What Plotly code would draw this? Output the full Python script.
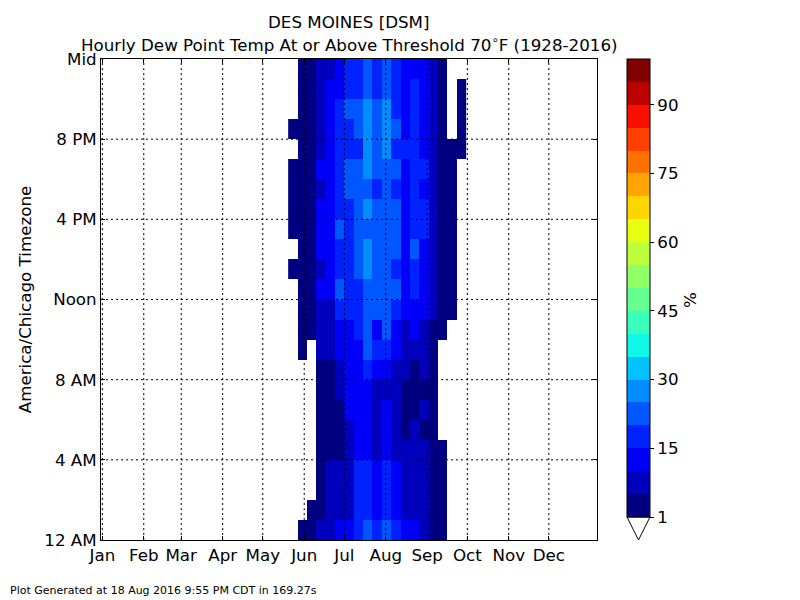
import numpy as np
import plotly.graph_objects as go

# week of year columns that have data (the rest of the year is below 1%)
weeks = list(range(20, 39))
hours = list(range(24))

# percent of hours at or above threshold, one row per hour (0 = 12 AM), columns = weeks 20..38
pct = [
    [None, 3, 3, 7, 7, 12, 12, 17, 22, 17, 22, 17, 12, 12, 7, 3, 3, None, None],
    [None, None, 3, 3, 7, 7, 7, 17, 17, 12, 17, 12, 7, 7, 7, 3, 3, None, None],
    [None, None, None, 3, 7, 7, 7, 17, 17, 12, 17, 12, 7, 7, 7, 3, 3, None, None],
    [None, None, None, 3, 7, 7, 7, 17, 17, 12, 17, 12, 7, 7, 7, 3, 3, None, None],
    [None, None, None, 3, 3, 3, 7, 12, 12, 7, 12, 7, 7, 7, 7, 3, 3, None, None],
    [None, None, None, 3, 3, 3, 7, 12, 12, 7, 12, 7, 3, 7, 3, 3, None, None, None],
    [None, None, None, 3, 3, 3, 12, 12, 12, 7, 12, 7, 3, 3, 7, 3, None, None, None],
    [None, None, None, 3, 3, 7, 12, 12, 12, 7, 7, 7, 3, 3, 3, 3, None, None, None],
    [None, None, None, 3, 3, 7, 12, 12, 17, 12, 12, 7, 7, 3, 7, 3, None, None, None],
    [None, 3, None, 7, 7, 12, 12, 12, 22, 17, 17, 12, 7, 7, 7, 3, None, None, None],
    [None, 3, 3, 7, 7, 12, 12, 17, 22, 12, 22, 12, 7, 12, 7, 3, 3, None, None],
    [None, 3, 3, 7, 7, 17, 17, 17, 22, 22, 22, 17, 12, 12, 12, 7, 3, 3, None],
    [None, 3, 3, 12, 12, 22, 17, 17, 22, 22, 22, 22, 12, 17, 12, 7, 3, 3, None],
    [3, 3, 3, 7, 12, 17, 17, 22, 27, 22, 22, 17, 12, 17, 12, 7, 3, 3, None],
    [None, 3, 3, 12, 12, 17, 17, 22, 27, 22, 22, 22, 12, 22, 12, 7, 3, 3, None],
    [3, 3, 3, 12, 12, 22, 17, 22, 22, 22, 22, 22, 12, 17, 17, 7, 3, 3, None],
    [3, 3, 3, 12, 12, 17, 17, 22, 27, 22, 22, 22, 12, 17, 17, 7, 3, 3, None],
    [3, 3, 3, 7, 12, 17, 22, 22, 22, 17, 22, 17, 12, 17, 12, 7, 3, 3, None],
    [3, 3, 3, 12, 12, 17, 22, 22, 27, 22, 22, 22, 12, 17, 17, 7, 3, 3, None],
    [None, 3, 3, 7, 12, 17, 17, 17, 27, 22, 27, 17, 17, 17, 12, 7, 3, 3, 3],
    [3, 3, 3, 7, 12, 17, 17, 22, 27, 22, 27, 22, 12, 17, 12, 7, 3, None, 3],
    [None, 3, 3, 7, 12, 17, 22, 22, 27, 22, 27, 17, 12, 17, 12, 7, 3, None, 3],
    [None, 3, 3, 7, 12, 12, 17, 17, 22, 17, 22, 17, 12, 17, 12, 7, 3, None, 3],
    [None, 3, 3, 7, 7, 12, 17, 17, 22, 17, 22, 17, 12, 12, 12, 7, 3, None, None],
]

month_labels = ["Jan", "Feb", "Mar", "Apr", "May", "Jun", "Jul", "Aug", "Sep", "Oct", "Nov", "Dec"]
month_doy = [1, 32, 60, 91, 121, 152, 182, 213, 244, 274, 305, 335]
hour_ticks = [0, 4, 8, 12, 16, 20, 24]
hour_labels = ["12 AM", "4 AM", "8 AM", "Noon", "4 PM", "8 PM", "Mid"]
cbar_ticks = [0, 15, 30, 45, 60, 75, 90]
cbar_labels = ["1", "15", "30", "45", "60", "75", "90"]


def jet(v):
    # matplotlib jet colormap
    r = np.interp(v, [0, 0.35, 0.66, 0.89, 1], [0, 0, 1, 1, 0.5])
    g = np.interp(v, [0, 0.125, 0.375, 0.64, 0.91, 1], [0, 0, 1, 1, 0, 0])
    b = np.interp(v, [0, 0.11, 0.34, 0.65, 1], [0.5, 1, 1, 0, 0])
    return "rgb(%d,%d,%d)" % (round(r * 255), round(g * 255), round(b * 255))


# 20 discrete bins (1,5,10,...,100)
nbins = 20
colorscale = []
for i in range(nbins):
    c = jet(i / (nbins - 1))
    colorscale.append([i / nbins, c])
    colorscale.append([(i + 1) / nbins, c])

font = "DejaVu Sans"
fs = 16.7  # 12pt at 100 dpi
xticks = [d / 7.0 for d in month_doy]

fig = go.Figure()
fig.add_trace(go.Heatmap(
    x=[w + 0.5 for w in weeks], y=[h + 0.5 for h in hours], z=pct,
    colorscale=colorscale, zmin=0, zmax=100, hoverongaps=False,
    colorbar=dict(x=1.0605, xanchor="left", y=1, yanchor="top", len=0.952,
                  thickness=23, xpad=0, ypad=0, outlinewidth=1, outlinecolor="black",
                  tickvals=cbar_ticks, ticktext=cbar_labels, ticks="outside",
                  ticklen=4, tickcolor="black", tickfont=dict(size=fs, color="black")),
))

# dotted grid drawn on top of the cells, like matplotlib
for xv in xticks:
    fig.add_shape(type="line", x0=xv, x1=xv, y0=0, y1=24, xref="x", yref="y",
                  line=dict(color="black", width=1, dash="2px,3px"), layer="above")
for yv in hour_ticks[1:-1]:
    fig.add_shape(type="line", x0=0, x1=53, y0=yv, y1=yv, xref="x", yref="y",
                  line=dict(color="black", width=1, dash="2px,3px"), layer="above")

# the "extend min" triangle under the colorbar
fig.add_shape(type="path", xref="paper", yref="paper",
              path="M 1.0605 0.0478 L 1.1069 0.0478 L 1.0837 0 Z",
              fillcolor="white", line=dict(color="black", width=1))

# titles
fig.add_annotation(text="DES MOINES [DSM]", xref="paper", yref="paper",
                   x=0.5, y=1.0769, xanchor="center", yanchor="middle",
                   showarrow=False, font=dict(size=fs))
fig.add_annotation(text="Hourly Dew Point Temp At or Above Threshold 70<sup>∘</sup>F (1928-2016)",
                   xref="paper", yref="paper", x=0.5, y=1.0313,
                   xanchor="center", yanchor="middle", showarrow=False,
                   font=dict(size=fs))
fig.add_annotation(text="%", xref="paper", yref="paper", x=1.1875, y=0.499,
                   xanchor="center", yanchor="middle", textangle=-90,
                   showarrow=False, font=dict(size=fs))
fig.add_annotation(text="Plot Generated at 18 Aug 2016 9:55 PM CDT in 169.27s",
                   xref="paper", yref="paper", x=-0.1875, y=-0.106,
                   xanchor="left", yanchor="middle", showarrow=False,
                   font=dict(size=11))

fig.update_xaxes(range=[0, 53], tickvals=xticks, ticktext=month_labels,
                 ticks="inside", ticklen=4, tickcolor="black", showgrid=False,
                 showline=True, linecolor="black", linewidth=1, mirror="ticks",
                 zeroline=False, tickfont=dict(size=fs, color="black"))
fig.update_yaxes(range=[0, 24], tickvals=hour_ticks, ticktext=hour_labels,
                 ticks="inside", ticklen=4, tickcolor="black", showgrid=False,
                 showline=True, linecolor="black", linewidth=1, mirror="ticks",
                 zeroline=False, tickfont=dict(size=fs, color="black"),
                 title=dict(text="America/Chicago Timezone", standoff=8,
                            font=dict(size=fs, color="black")))

# page body has an 8px margin, so the figure is 8px smaller and margins shifted
fig.update_layout(
    width=792, height=592,
    margin=dict(l=93, r=203, t=51, b=60),
    paper_bgcolor="white", plot_bgcolor="white",
    font=dict(family=font, color="black"),
)

fig.write_html("out.html")
